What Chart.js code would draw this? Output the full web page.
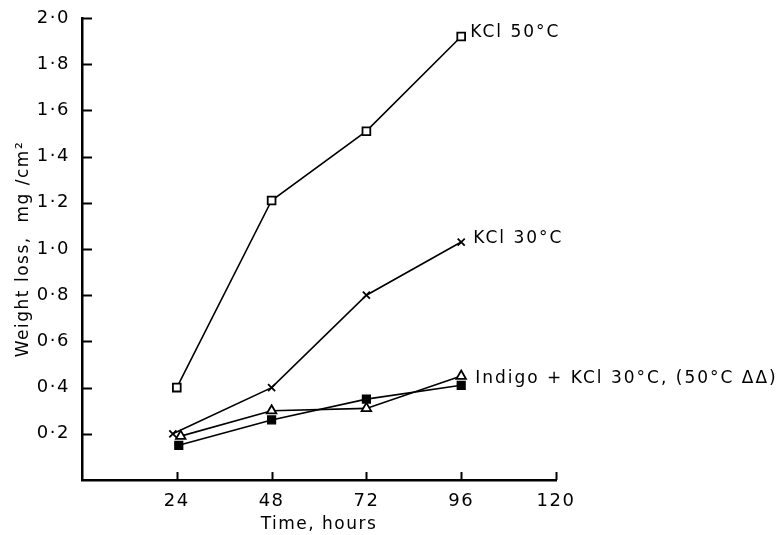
<!DOCTYPE html>
<html><head><meta charset="utf-8">
<script src="https://cdn.jsdelivr.net/npm/chart.js@4/dist/chart.umd.min.js"></script>
<style>html,body{margin:0;padding:0;background:#fff}#wrap{width:782px;height:535px}</style>
</head><body><div id="wrap"><canvas id="c" width="782" height="535"></canvas></div>
<script>
// Data
const kcl50Hours = [24, 48, 72, 96];
const kcl50 = [0.40, 1.21, 1.51, 1.92];
const kcl30Hours = [23, 48, 72, 96];
const kcl30 = [0.20, 0.40, 0.80, 1.03];
const indigo50Hours = [25, 48, 72, 96];
const indigo50 = [0.19, 0.30, 0.31, 0.45];
const indigo30Hours = [24.5, 48, 72, 96];
const indigo30 = [0.15, 0.26, 0.35, 0.41];
const xTicks = [24, 48, 72, 96, 120];
const yTicks = [0.2, 0.4, 0.6, 0.8, 1.0, 1.2, 1.4, 1.6, 1.8, 2.0];
const seriesLabels = ['KCl 50°C', 'KCl 30°C', 'Indigo + KCl 30°C, (50°C ΔΔ)'];
const xTitle = 'Time, hours';
const yTitle = 'Weight loss,  mg /cm²';

const pts = (xs, ys) => xs.map((x, i) => ({x: x, y: ys[i]}));
const FONT = 'DejaVu Sans';
const SPACING = '1.5px';

const spacingPlugin = {
  id: 'spacing',
  beforeUpdate(chart) { chart.ctx.letterSpacing = SPACING; },
  beforeDraw(chart) { chart.ctx.letterSpacing = SPACING; }
};

const decorPlugin = {
  id: 'decor',
  afterDraw(chart) {
    const ctx = chart.ctx;
    const xs = chart.scales.x, ys = chart.scales.y;
    const area = chart.chartArea;
    ctx.save();
    ctx.strokeStyle = '#000';
    ctx.lineWidth = 2;
    // inward tick marks
    yTicks.forEach(v => {
      const y = Math.round(ys.getPixelForValue(v)) + 0.5;
      ctx.beginPath(); ctx.moveTo(area.left, y); ctx.lineTo(area.left + 10, y); ctx.stroke();
    });
    xTicks.forEach(v => {
      const x = Math.round(xs.getPixelForValue(v)) + 0.5;
      ctx.beginPath(); ctx.moveTo(x, area.bottom); ctx.lineTo(x, area.bottom - 8); ctx.stroke();
    });
    // series labels
    ctx.fillStyle = '#000';
    ctx.font = '17px "' + FONT + '"';
    ctx.letterSpacing = '2px';
    ctx.textAlign = 'left';
    ctx.textBaseline = 'middle';
    const lx = xs.getPixelForValue(kcl50Hours[3]);
    ctx.fillText(seriesLabels[0], lx + 9, ys.getPixelForValue(kcl50[3]) - 4);
    ctx.fillText(seriesLabels[1], lx + 12, ys.getPixelForValue(kcl30[3]) - 3);
    ctx.fillText(seriesLabels[2], lx + 14, ys.getPixelForValue(indigo50[3]) + 3);
    ctx.restore();
  }
};

new Chart(document.getElementById('c'), {
  type: 'line',
  data: {
    datasets: [
      { label: seriesLabels[0], data: pts(kcl50Hours, kcl50), borderColor: '#000', borderWidth: 1.6,
        pointStyle: 'rect', pointRadius: 5.5, pointBackgroundColor: '#fff', pointBorderColor: '#000', pointBorderWidth: 1.8, tension: 0 },
      { label: seriesLabels[1], data: pts(kcl30Hours, kcl30), borderColor: '#000', borderWidth: 1.6,
        pointStyle: 'crossRot', pointRadius: 5, pointBorderColor: '#000', pointBorderWidth: 1.8, tension: 0 },
      { label: 'Indigo + KCl 50°C', data: pts(indigo50Hours, indigo50), borderColor: '#000', borderWidth: 1.6,
        pointStyle: 'triangle', pointRadius: 5.5, pointBackgroundColor: '#fff', pointBorderColor: '#000', pointBorderWidth: 1.8, tension: 0 },
      { label: 'Indigo + KCl 30°C', data: pts(indigo30Hours, indigo30), borderColor: '#000', borderWidth: 1.6,
        pointStyle: 'rect', pointRadius: 5.5, pointBackgroundColor: '#000', pointBorderColor: '#000', pointBorderWidth: 1.4, tension: 0 }
    ]
  },
  options: {
    responsive: false,
    animation: false,
    devicePixelRatio: 1,
    layout: { padding: { left: 0, top: 18, right: 226, bottom: 0 } },
    plugins: { legend: { display: false }, tooltip: { enabled: false } },
    scales: {
      x: {
        type: 'linear', min: 0, max: 120,
        afterBuildTicks: s => { s.ticks = xTicks.map(v => ({value: v})); },
        afterFit: s => { s.height = 55; },
        grid: { display: false },
        border: { display: true, color: '#000', width: 2.5 },
        ticks: { color: '#000', font: { family: FONT, size: 18 }, padding: 3, maxRotation: 0 },
        title: { display: true, text: xTitle, color: '#000', font: { family: FONT, size: 17 }, padding: { top: 0, bottom: 0 } }
      },
      y: {
        type: 'linear', min: 0, max: 2,
        afterBuildTicks: s => { s.ticks = yTicks.map(v => ({value: v})); },
        afterFit: s => { s.width = 82; },
        grid: { display: false },
        border: { display: true, color: '#000', width: 2.5 },
        ticks: { color: '#000', font: { family: FONT, size: 18 }, padding: 4,
                 callback: v => v.toFixed(1).replace('.', '·') },
        title: { display: true, text: yTitle, color: '#000', font: { family: FONT, size: 17 }, padding: { top: 13, bottom: 0 } }
      }
    }
  },
  plugins: [spacingPlugin, decorPlugin]
});
</script></body></html>
